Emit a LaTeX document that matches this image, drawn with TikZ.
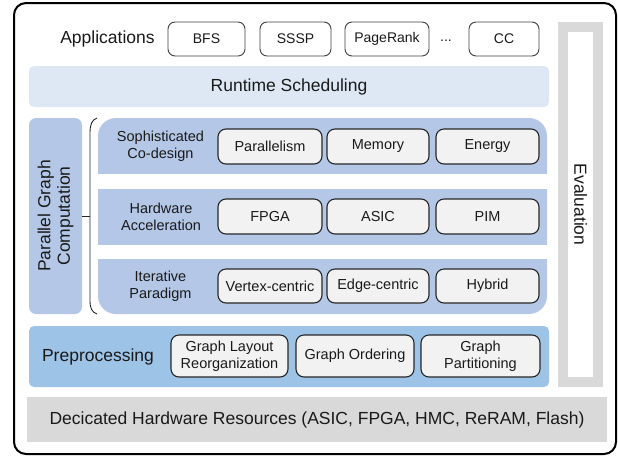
\documentclass[tikz,border=0pt]{standalone}
\usepackage{fontspec}
\setmainfont{Liberation Sans}
\newcommand\fsL{\fontsize{17.5pt}{19.5pt}\selectfont}
\newcommand\fsS{\fontsize{14.5pt}{17pt}\selectfont}
\newcommand\fsA{\fontsize{14pt}{17pt}\selectfont}
\definecolor{rtblue}{HTML}{DEE8F4}
\definecolor{bandblue}{HTML}{B4C7E7}
\definecolor{preblue}{HTML}{9DC3E6}
\definecolor{hwgray}{HTML}{D9D9D9}
\definecolor{cellfill}{HTML}{F2F2F2}
\definecolor{txt}{HTML}{1A1A1A}
\begin{document}
\begin{tikzpicture}[x=1pt,y=-1pt,
  every node/.style={text=txt, inner sep=0pt, outer sep=0pt},
  appbox/.style={draw=black!75, line width=0.9pt, fill=white, rounded corners=7pt, minimum height=34pt, font=\fsA},
  cellbox/.style={draw=black!85, line width=1.1pt, fill=cellfill, rounded corners=8pt, font=\fsS, align=center},
  band/.style={rounded corners=5pt},
  lblS/.style={font=\fsS, align=center},
  lblL/.style={font=\fsL, align=center}]
\useasboundingbox (0,0) rectangle (618,456);
% outer frame
\draw[line width=2pt, rounded corners=12pt] (14,3) rectangle (616,454);
% applications
\node[lblL] (apps) at (107.5,39) {Applications};
\node[appbox, minimum width=77pt] (bfs) at (206.5,39) {BFS};
\node[appbox, minimum width=71pt] (sssp) at (295.5,39) {SSSP};
\node[appbox, minimum width=84pt] (pr) at (387,39) {PageRank};
\node[font=\fsA] (dots) at (446,41) {...};
\node[appbox, minimum width=70pt] (cc) at (504,39) {CC};
% runtime scheduling
\node[band, fill=rtblue, minimum width=520pt, minimum height=41pt, font=\fsL] (rt) at (289,86.5) {Runtime Scheduling};
% evaluation
\node[draw=hwgray, line width=10pt, minimum width=35pt, minimum height=355pt, font=\fsL] (eval) at (580.5,204.5) {};
\node[font=\fsL, rotate=-90] (evaltxt) at (eval.center) {Evaluation};
% parallel graph computation
\node[fill=bandblue, rounded corners=7pt, minimum width=53pt, minimum height=196pt] (pgc) at (55.5,216) {};
\node[lblL, rotate=90] (pgctxt) at (pgc.center) {Parallel Graph\\Computation};
% brace
\coordinate (bt) at (97,118);
\coordinate (bb) at (97,314);
\coordinate (bm) at (90,216.5);
\draw[line width=0.9pt, black!85] (bt) .. controls (91.5,120) and (90,125) .. (90,133) -- (90,300) .. controls (90,308) and (91.5,312) .. (bb);
\draw[line width=0.9pt, black!85] (pgc.east |- bm) -- (bm);
% bands
\fill[bandblue, rounded corners=18pt] (98,118) rectangle (547,314);
\fill[white] (97,174) rectangle (548,189);
\fill[white] (97,245) rectangle (548,259);
\node[lblS] (sc) at (160.5,146.5) {Sophisticated\\Co-design};
\node[lblS] (ha) at (161,217) {Hardware\\Acceleration};
\node[lblS] (ip) at (160.5,286.5) {Iterative\\Paradigm};
% row 1
\node[cellbox, minimum width=104pt, minimum height=35pt] (par) at (270,146.5) {Parallelism};
\node[cellbox, minimum width=102pt, minimum height=35pt] (mem) at (378,146.5) {Memory};
\node[cellbox, minimum width=103pt, minimum height=35pt] (ene) at (487.5,146.5) {Energy};
% row 2
\node[cellbox, minimum width=104pt, minimum height=35pt] (fpga) at (270,216.5) {FPGA};
\node[cellbox, minimum width=102pt, minimum height=35pt] (asic) at (378,216.5) {ASIC};
\node[cellbox, minimum width=103pt, minimum height=35pt] (pim) at (487.5,216.5) {PIM};
% row 3
\node[cellbox, minimum width=104pt, minimum height=34pt] (vc) at (270,286) {Vertex-centric};
\node[cellbox, minimum width=102pt, minimum height=34pt] (ec) at (378,286) {Edge-centric};
\node[cellbox, minimum width=103pt, minimum height=34pt] (hy) at (487.5,286) {Hybrid};
% preprocessing
\node[band, fill=preblue, minimum width=520pt, minimum height=61pt] (pre) at (289,356.5) {};
\node[lblL] (pretxt) at (98,357) {Preprocessing};
\node[cellbox, minimum width=117pt, minimum height=42pt] (glr) at (229.5,356) {Graph Layout\\Reorganization};
\node[cellbox, minimum width=118pt, minimum height=42pt] (go) at (355,356) {Graph Ordering};
\node[cellbox, minimum width=119pt, minimum height=42pt] (gp) at (480.5,356) {Graph\\Partitioning};
% dedicated hardware
\node[fill=hwgray, minimum width=580pt, minimum height=45pt, font=\fsL] (hw) at (317,419.5) {Decicated Hardware Resources (ASIC, FPGA, HMC, ReRAM, Flash)};
\end{tikzpicture}
\end{document}
